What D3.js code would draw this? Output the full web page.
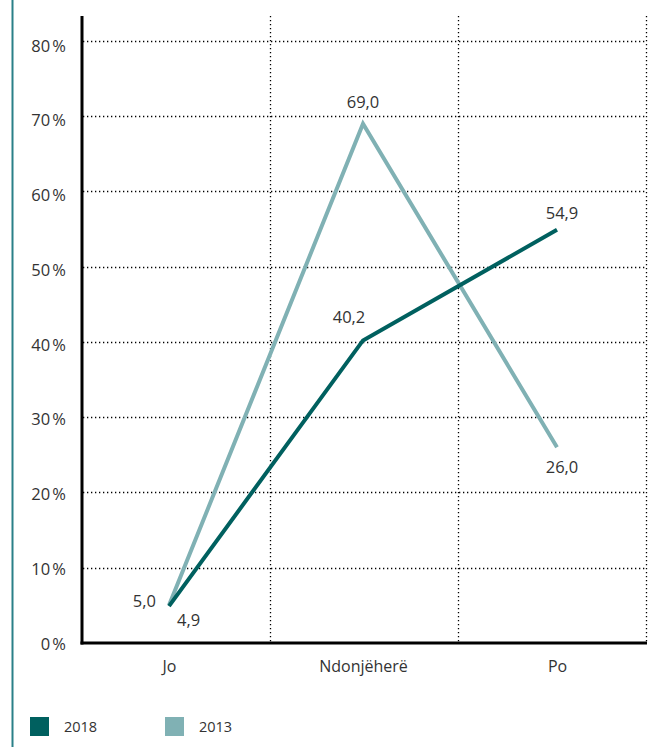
<!DOCTYPE html>
<html>
<head>
<meta charset="utf-8">
<script src="https://cdn.jsdelivr.net/npm/d3@7"></script>
<style>
  html, body { margin: 0; padding: 0; background: #fff; }
  svg { display: block; }
  text { font-family: "Open Sans", sans-serif; fill: #333; }
</style>
</head>
<body>
<svg id="chart" width="669" height="747"></svg>
<script>
// ---- data ----
const categories = ["Jo", "Ndonjëherë", "Po"];
const series2018 = [4.9, 40.2, 54.9];
const series2013 = [5.0, 69.0, 26.0];
const seriesNames = ["2018", "2013"];
const yTicks = [0, 10, 20, 30, 40, 50, 60, 70, 80];
const yMax = 83.3;

// ---- layout / style ----
const colors = { "2018": "#00605f", "2013": "#80b1b4" };
const W = 669, H = 747;
const plot = { left: 83, right: 647, top: 16, bottom: 643 };
const labelOffsets = {
  "2018": [{dx: 8, dy: 20, anchor: "start"}, {dx: -14, dy: -17, anchor: "middle"}, {dx: 5, dy: -11, anchor: "middle"}],
  "2013": [{dx: -13, dy: 2, anchor: "end"}, {dx: 0, dy: -16, anchor: "middle"}, {dx: 5, dy: 26, anchor: "middle"}]
};

const svg = d3.select("#chart");

svg.append("line")
  .attr("x1", 12.5).attr("x2", 12.5).attr("y1", 0).attr("y2", H)
  .attr("stroke", "#2a8088").attr("stroke-width", 2);

const y = d3.scaleLinear().domain([0, yMax]).range([plot.bottom, plot.top]);
const xBand = d3.scaleBand().domain(categories).range([plot.left, plot.right]);
const x = d3.scalePoint().domain(categories).range([169, 557]);

svg.append("g").selectAll("line").data(yTicks.filter(t => t > 0)).join("line")
  .attr("x1", plot.left).attr("x2", plot.right)
  .attr("y1", d => Math.round(y(d)) + 0.5).attr("y2", d => Math.round(y(d)) + 0.5)
  .attr("stroke", "#000").attr("stroke-width", 1.3)
  .attr("stroke-dasharray", "1.3,2.7");

const bounds = categories.map(c => xBand(c) + xBand.bandwidth());
svg.append("g").selectAll("line").data(bounds).join("line")
  .attr("x1", d => Math.round(d) - 0.5).attr("x2", d => Math.round(d) - 0.5)
  .attr("y1", plot.top).attr("y2", plot.bottom)
  .attr("stroke", "#000").attr("stroke-width", 1.3)
  .attr("stroke-dasharray", "1.3,2.7");

const yAxis = d3.axisLeft(y).tickValues(yTicks).tickSize(0).tickPadding(17)
  .tickFormat(d => d + "\u202F%");
const gy = svg.append("g").attr("transform", `translate(${plot.left},0)`).call(yAxis);
gy.select(".domain").remove();
gy.selectAll("text").attr("font-size", 16.5).attr("font-family", "Open Sans, sans-serif")
  .attr("fill", "#333").attr("dy", (d) => (0.32 * 16.5 + 1 + d / 20) + "px");

svg.append("line")
  .attr("x1", plot.left - 1).attr("x2", plot.left - 1).attr("y1", plot.top).attr("y2", plot.bottom + 1.5)
  .attr("stroke", "#000").attr("stroke-width", 3);

svg.append("line")
  .attr("x1", plot.left - 2.5).attr("x2", plot.right).attr("y1", plot.bottom).attr("y2", plot.bottom)
  .attr("stroke", "#000").attr("stroke-width", 3);

const xAxis = d3.axisBottom(x).tickSize(0).tickPadding(18);
const gx = svg.append("g").attr("transform", `translate(0,${plot.bottom})`).call(xAxis);
gx.select(".domain").remove();
gx.selectAll("text").attr("font-size", 16).attr("font-family", "Open Sans, sans-serif").attr("fill", "#333");

const line = d3.line().x((d, i) => x(categories[i])).y(d => y(d));
const seriesData = { "2018": series2018, "2013": series2013 };
["2013", "2018"].forEach(name => {
  svg.append("path").datum(seriesData[name])
    .attr("d", line)
    .attr("fill", "none")
    .attr("stroke", colors[name])
    .attr("stroke-width", 4)
    .attr("stroke-linejoin", "miter");
});

seriesNames.forEach(name => {
  svg.append("g").selectAll("text").data(seriesData[name]).join("text")
    .attr("x", (d, i) => x(categories[i]) + labelOffsets[name][i].dx)
    .attr("y", (d, i) => y(d) + labelOffsets[name][i].dy)
    .attr("text-anchor", (d, i) => labelOffsets[name][i].anchor)
    .attr("font-size", 16.5)
    .text(d => d.toFixed(1).replace(".", ","));
});

const legendX = [30, 165];
seriesNames.forEach((name, i) => {
  svg.append("rect").attr("x", legendX[i]).attr("y", 717)
    .attr("width", 19).attr("height", 19).attr("fill", colors[name]);
  svg.append("text").attr("x", legendX[i] + 34).attr("y", 732)
    .attr("font-size", 14.5).text(name);
});
</script>
</body>
</html>
